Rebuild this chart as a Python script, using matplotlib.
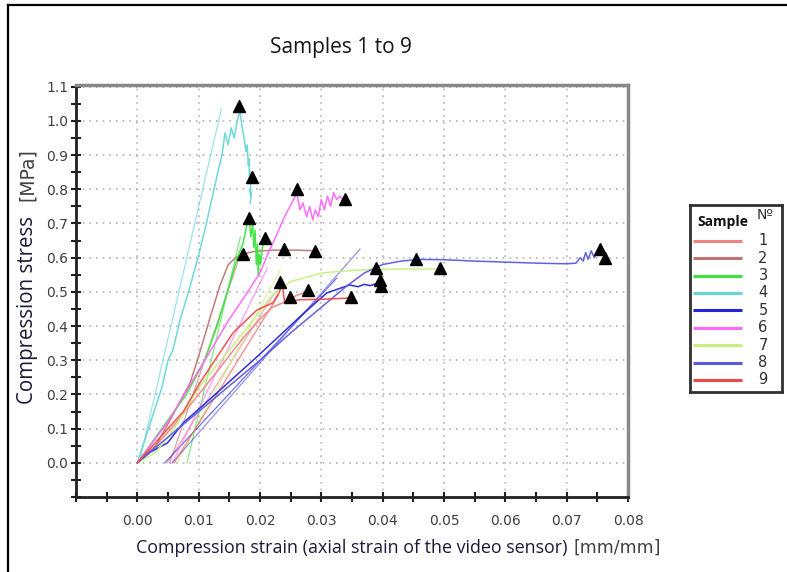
import matplotlib
matplotlib.use("Agg")
import matplotlib.pyplot as plt
from matplotlib.lines import Line2D
import numpy as np

# ---------------- data ----------------
sample_ids = ["1", "2", "3", "4", "5", "6", "7", "8", "9"]
sample_colors = ["#f28282", "#c07474", "#3ee23e", "#66d6d6", "#2424d8",
                 "#ff66ff", "#c6f07a", "#5a5ae0", "#f04848"]

# main test curves: strain [mm/mm], stress [MPa]
s1_strain = [0.0, 0.003, 0.006, 0.010, 0.014, 0.017, 0.020, 0.022, 0.024, 0.026, 0.0278]
s1_stress = [0.0, 0.05, 0.11, 0.20, 0.29, 0.36, 0.42, 0.455, 0.47, 0.49, 0.50]
s2_strain = [0.0, 0.003, 0.0055, 0.0086, 0.0098, 0.0119, 0.0135, 0.0148, 0.0160, 0.0175, 0.019, 0.022, 0.026, 0.029]
s2_stress = [0.0, 0.05, 0.13, 0.234, 0.30, 0.427, 0.52, 0.579, 0.60, 0.612, 0.618, 0.622, 0.622, 0.620]
s3_strain = [0.0, 0.004, 0.008, 0.011, 0.013, 0.015, 0.0163, 0.0172, 0.0178, 0.0182, 0.0185, 0.0188, 0.0190,
             0.0192, 0.0194, 0.0196, 0.0197, 0.0199, 0.0201, 0.0204, 0.0207]
s3_stress = [0.0, 0.10, 0.20, 0.30, 0.40, 0.52, 0.60, 0.64, 0.69, 0.72, 0.66, 0.70, 0.63, 0.68, 0.58, 0.64,
             0.55, 0.61, 0.58, 0.63, 0.65]
s4_strain = [0.0, 0.002, 0.004, 0.005, 0.0058, 0.007, 0.0085, 0.0098, 0.011, 0.012, 0.013, 0.0138, 0.0143,
             0.0148, 0.0153, 0.0158, 0.0163, 0.0167, 0.0171, 0.0174, 0.0177, 0.0179, 0.0181, 0.0182,
             0.0183, 0.0184, 0.0185, 0.0184, 0.0185, 0.0184]
s4_stress = [0.0, 0.11, 0.22, 0.30, 0.33, 0.42, 0.51, 0.594, 0.68, 0.76, 0.84, 0.90, 0.965, 0.93, 0.98, 0.95,
             1.00, 1.03, 0.98, 0.95, 0.91, 0.93, 0.87, 0.89, 0.82, 0.85, 0.78, 0.80, 0.77, 0.76]
s5_strain = [0.0, 0.002, 0.0049, 0.0075, 0.013, 0.0195, 0.0265, 0.0309, 0.0330, 0.0346, 0.036, 0.037,
             0.038, 0.039, 0.0398]
s5_stress = [0.0, 0.03, 0.058, 0.117, 0.205, 0.31, 0.427, 0.497, 0.51, 0.52, 0.515, 0.522, 0.518, 0.525, 0.535]
s6_strain = [0.0, 0.005, 0.010, 0.015, 0.018, 0.020, 0.0215, 0.0228, 0.0240, 0.0249, 0.0260, 0.0265,
             0.0270, 0.0276, 0.0281, 0.0286, 0.0290, 0.0295, 0.0300, 0.0305, 0.0310, 0.0315, 0.0320,
             0.0325, 0.0330, 0.0335]
s6_stress = [0.0, 0.12, 0.27, 0.42, 0.50, 0.556, 0.62, 0.67, 0.72, 0.75, 0.79, 0.74, 0.76, 0.72, 0.75, 0.71,
             0.74, 0.72, 0.77, 0.74, 0.78, 0.75, 0.79, 0.77, 0.78, 0.77]
s7_strain = [0.0, 0.003, 0.006, 0.010, 0.015, 0.019, 0.022, 0.025, 0.030, 0.035, 0.040, 0.045, 0.049]
s7_stress = [0.0, 0.03, 0.10, 0.22, 0.33, 0.42, 0.49, 0.53, 0.555, 0.563, 0.566, 0.567, 0.567]
s8_strain = [0.0, 0.003, 0.006, 0.010, 0.015, 0.020, 0.025, 0.030, 0.034, 0.037, 0.040, 0.043, 0.046,
             0.050, 0.055, 0.060, 0.065, 0.070, 0.0715, 0.0722, 0.0727, 0.0731, 0.0735, 0.0740, 0.0745,
             0.0750, 0.0755]
s8_stress = [0.0, 0.045, 0.09, 0.15, 0.225, 0.30, 0.38, 0.455, 0.515, 0.555, 0.58, 0.59, 0.595, 0.594,
             0.59, 0.587, 0.584, 0.582, 0.584, 0.60, 0.59, 0.615, 0.595, 0.62, 0.60, 0.615, 0.62]
s9_strain = [0.0, 0.004, 0.0075, 0.0102, 0.0156, 0.0195, 0.0221, 0.0232, 0.0236, 0.0240, 0.0265, 0.030, 0.0346]
s9_stress = [0.0, 0.08, 0.15, 0.234, 0.38, 0.447, 0.468, 0.50, 0.53, 0.47, 0.477, 0.478, 0.482]

# straight reference (modulus) lines: [strain start, strain end], [stress start, stress end]
fit1_strain, fit1_stress = [0.0049, 0.0225], [0.0, 0.50]
fit2_strain, fit2_stress = [0.0053, 0.0170], [0.0, 0.62]
fit3_strain, fit3_stress = [0.0081, 0.0168], [0.0, 0.66]
fit4_strain, fit4_stress = [0.0003, 0.0137], [0.0, 1.035]
fit5_strain, fit5_stress = [0.0045, 0.0325], [0.0, 0.54]
fit6_strain, fit6_stress = [0.0057, 0.0212], [0.0, 0.57]
fit7_strain, fit7_stress = [0.0065, 0.0233], [0.0, 0.565]
fit8_strain, fit8_stress = [0.0057, 0.0363], [0.0, 0.625]
fit9_strain, fit9_stress = [0.0060, 0.0230], [0.0, 0.49]

# black triangles (characteristic points)
mark_strain = [0.0166, 0.0187, 0.0182, 0.0208, 0.0172, 0.0239, 0.0289, 0.0260, 0.0338, 0.0233,
               0.0249, 0.0278, 0.0348, 0.0389, 0.0395, 0.0398, 0.0455, 0.0494, 0.0754, 0.0763]
mark_stress = [1.044, 0.836, 0.716, 0.658, 0.611, 0.626, 0.620, 0.800, 0.772, 0.530,
               0.485, 0.506, 0.485, 0.570, 0.536, 0.518, 0.596, 0.570, 0.626, 0.600]

x_ticks = [0.00, 0.01, 0.02, 0.03, 0.04, 0.05, 0.06, 0.07, 0.08]
y_ticks = [0.0, 0.1, 0.2, 0.3, 0.4, 0.5, 0.6, 0.7, 0.8, 0.9, 1.0, 1.1]

curves = [(s1_strain, s1_stress), (s2_strain, s2_stress), (s3_strain, s3_stress),
          (s4_strain, s4_stress), (s5_strain, s5_stress), (s6_strain, s6_stress),
          (s7_strain, s7_stress), (s8_strain, s8_stress), (s9_strain, s9_stress)]
fits = [(fit1_strain, fit1_stress), (fit2_strain, fit2_stress), (fit3_strain, fit3_stress),
        (fit4_strain, fit4_stress), (fit5_strain, fit5_stress), (fit6_strain, fit6_stress),
        (fit7_strain, fit7_stress), (fit8_strain, fit8_stress), (fit9_strain, fit9_stress)]

# ---------------- figure ----------------
W, H = 787, 572
fig = plt.figure(figsize=(W / 100, H / 100), dpi=100)
fig.patch.set_facecolor("white")

def fx(px):
    return px / W

def fy(py):
    return 1 - py / H

ax = fig.add_axes([fx(76), fy(497), fx(628) - fx(76), fy(85) - fy(497)])
ax.set_xlim(-0.01, 0.08)
ax.set_ylim(-0.1, 1.105)

for (xs, ys), c in zip(fits, sample_colors):
    ax.plot(xs, ys, color=c, lw=0.9, alpha=0.65, zorder=2)
for (xs, ys), c in zip(curves, sample_colors):
    ax.plot(xs, ys, color=c, lw=1.1, alpha=0.95, zorder=3)
ax.plot(mark_strain, mark_stress, linestyle="none", marker="^", markersize=9,
        color="black", zorder=5)

ax.set_xticks(x_ticks)
ax.set_xticklabels([f"{v:.2f}" for v in x_ticks])
ax.set_xticks(np.arange(-0.01, 0.0801, 0.005), minor=True)
ax.set_yticks(y_ticks)
ax.set_yticklabels([f"{v:.1f}" for v in y_ticks])
ax.set_yticks(np.arange(-0.1, 1.101, 0.05), minor=True)

ax.tick_params(axis="both", which="both", direction="inout", color="#202020", width=1.5)
ax.tick_params(axis="both", which="major", length=7, labelsize=10, labelcolor="#404040")
ax.tick_params(axis="both", which="minor", length=7)
ax.tick_params(axis="x", which="major", pad=9)
ax.tick_params(axis="y", which="major", pad=2)

ax.grid(True, which="major", color="#b4b4b4", linestyle=(0, (1, 3)), linewidth=1.2)
ax.set_axisbelow(True)

for side in ("left", "bottom"):
    ax.spines[side].set_color("#202020")
    ax.spines[side].set_linewidth(2)
for side in ("top", "right"):
    ax.spines[side].set_color("#888888")
    ax.spines[side].set_linewidth(2.5)

# title and axis labels
narrow = ["Liberation Sans Narrow", "Open Sans", "DejaVu Sans"]
fig.text(fx(341), fy(48), "Samples 1 to 9", ha="center", va="center",
         fontsize=15, family=narrow, color="#151515")
fig.text(fx(352), fy(548), "Compression strain (axial strain of the video sensor)",
         ha="center", va="center", fontsize=12.9, family=narrow, color="#1a1a3a")
fig.text(fx(617), fy(548), "[mm/mm]", ha="center", va="center",
         fontsize=12.5, family="DejaVu Sans", color="#404040")
fig.text(fx(27), fy(310), "Compression stress", rotation=90, ha="center", va="center",
         fontsize=14.8, family="Open Sans", color="#1a1a3a")
fig.text(fx(27), fy(175), "[MPa]", rotation=90, ha="center", va="center",
         fontsize=13.5, family="DejaVu Sans", color="#404040")

# figure border (left and top visible)
fig.add_artist(Line2D([fx(8), fx(8)], [0, fy(5)], color="black", lw=1.6))
fig.add_artist(Line2D([fx(8), 1], [fy(5), fy(5)], color="black", lw=1.6))

# legend box
lx0, ly0, lx1, ly1 = 690, 205, 782, 392
lax = fig.add_axes([fx(lx0), fy(ly1), fx(lx1) - fx(lx0), fy(ly0) - fy(ly1)])
lax.set_xlim(lx0, lx1)
lax.set_ylim(ly1, ly0)
lax.set_xticks([])
lax.set_yticks([])
for s in lax.spines.values():
    s.set_color("#303030")
    s.set_linewidth(2)
lax.text(697, 222, "Sample", ha="left", va="center", fontsize=10, fontweight="bold",
         family=narrow, color="#101010")
lax.text(765, 215, "Nº", ha="center", va="center", fontsize=10, family="DejaVu Sans",
         color="#303030")
entry_y = [241, 258.2, 275.8, 293, 310.5, 327.8, 345.3, 362.9, 380]
for yy, lab, c in zip(entry_y, sample_ids, sample_colors):
    lax.plot([693, 742], [yy, yy], color=c, lw=2.2, solid_capstyle="butt")
    lax.text(763, yy, lab, ha="center", va="center", fontsize=10.5,
             family="DejaVu Sans", color="#303030")

fig.savefig("out.png", dpi=100)
